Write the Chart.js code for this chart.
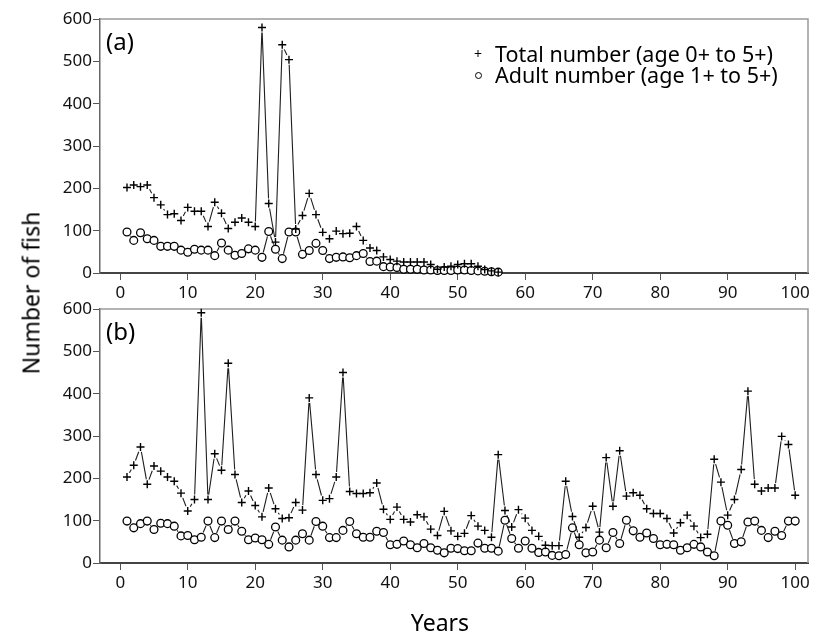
<!DOCTYPE html>
<html>
<head>
<meta charset="utf-8">
<script src="https://cdn.jsdelivr.net/npm/chart.js@4.4.1/dist/chart.umd.min.js"></script>
<style>
  html, body { margin: 0; padding: 0; background: #fff; }
  #wrap { position: relative; width: 817px; height: 634px; overflow: hidden; font-family: "Noto Sans", sans-serif; color: #000; }
  canvas { position: absolute; left: 0; }
  .lbl { position: absolute; line-height: 1; white-space: nowrap; }
</style>
</head>
<body>
<div id="wrap">
  <canvas id="chart-a" width="817" height="305" style="top:0"></canvas>
  <canvas id="chart-b" width="817" height="339" style="top:295px"></canvas>

  <div class="lbl" style="left:106px; top:29px; font-size:24px">(a)</div>
  <div class="lbl" style="left:106px; top:319px; font-size:24px">(b)</div>

  <div class="lbl" style="left:478px; top:54px; font-size:14px; transform:translate(-50%,-50%)">+</div>
  <div style="position:absolute; left:475px; top:72px; width:5px; height:5px; border:1px solid #000; border-radius:50%"></div>
  <div class="lbl" style="left:495px; top:43px; font-size:21.5px">Total number (age 0+ to 5+)</div>
  <div class="lbl" style="left:495px; top:63.5px; font-size:21.5px">Adult number (age 1+ to 5+)</div>

  <div class="lbl" style="left:31px; top:293px; font-size:23px; transform:translate(-50%,-50%) rotate(-90deg)">Number of fish</div>
  <div class="lbl" style="left:440px; top:610.5px; font-size:23px; transform:translateX(-50%)">Years</div>
</div>

<script>
/* ---------- datos ---------- */
const YEARS = [
  1, 2, 3, 4, 5, 6, 7, 8, 9, 10, 11, 12, 13, 14, 15, 16, 17, 18, 19, 20,
  21, 22, 23, 24, 25, 26, 27, 28, 29, 30, 31, 32, 33, 34, 35, 36, 37, 38, 39, 40,
  41, 42, 43, 44, 45, 46, 47, 48, 49, 50, 51, 52, 53, 54, 55, 56, 57, 58, 59, 60,
  61, 62, 63, 64, 65, 66, 67, 68, 69, 70, 71, 72, 73, 74, 75, 76, 77, 78, 79, 80,
  81, 82, 83, 84, 85, 86, 87, 88, 89, 90, 91, 92, 93, 94, 95, 96, 97, 98, 99, 100,
];

// (a) años 1–56, después la población se extingue
const TOTAL_A = [
  202, 208, 204, 208, 178, 161, 138, 140, 124, 155, 146, 146, 110, 167, 141, 105, 120, 130, 120, 110,
  580, 164, 73, 539, 504, 104, 136, 188, 138, 96, 81, 99, 93, 94, 110, 77, 59, 53, 38, 32,
  28, 26, 26, 26, 26, 20, 9, 14, 16, 20, 22, 22, 16, 8, 5, 2,
];
const ADULT_A = [
  97, 77, 95, 81, 77, 63, 63, 63, 54, 49, 56, 54, 54, 41, 71, 54, 42, 46, 57, 54,
  37, 98, 56, 34, 97, 97, 44, 53, 70, 53, 34, 37, 38, 36, 41, 46, 27, 28, 15, 14,
  13, 9, 9, 9, 7, 7, 6, 6, 6, 7, 7, 6, 5, 4, 3, 2,
];

// (b) años 1–100
const TOTAL_B = [
  203, 231, 274, 186, 229, 217, 203, 193, 165, 123, 150, 591, 150, 258, 219, 472, 209, 143, 170, 136,
  109, 177, 128, 105, 107, 143, 125, 390, 209, 148, 152, 203, 450, 169, 164, 164, 166, 189, 127, 103,
  132, 103, 97, 114, 109, 80, 65, 122, 76, 63, 70, 112, 87, 77, 61, 256, 124, 85, 126, 106,
  77, 63, 42, 41, 41, 193, 110, 61, 84, 134, 73, 249, 134, 265, 158, 166, 160, 128, 117, 117,
  105, 71, 95, 113, 87, 60, 68, 245, 191, 113, 150, 221, 406, 186, 170, 177, 177, 299, 280, 160,
];
const ADULT_B = [
  99, 83, 93, 99, 79, 94, 93, 87, 64, 65, 55, 61, 99, 60, 99, 79, 99, 75, 55, 59,
  55, 44, 85, 54, 38, 54, 69, 54, 98, 87, 60, 60, 77, 98, 69, 61, 61, 75, 72, 43,
  44, 52, 43, 36, 46, 36, 30, 24, 35, 34, 29, 29, 47, 35, 35, 28, 101, 58, 35, 52,
  35, 25, 26, 18, 17, 20, 83, 43, 24, 26, 54, 36, 72, 46, 101, 76, 61, 71, 58, 43,
  44, 43, 30, 36, 44, 38, 26, 17, 99, 89, 46, 50, 97, 99, 77, 60, 75, 65, 99, 99,
];

const X_TICKS = [0, 10, 20, 30, 40, 50, 60, 70, 80, 90, 100];
const Y_TICKS = [0, 100, 200, 300, 400, 500, 600];
const X_MIN = -3, X_MAX = 101.9;
const Y_MIN = 0, Y_MAX = 600;

/* ---------- plugins ---------- */
const GAP = 5; // hueco alrededor de cada marcador (estilo type="b")

const gappedLines = {
  id: "gappedLines",
  beforeDatasetDraw(chart, args) {
    const pts = args.meta.data;
    const ctx = chart.ctx;
    ctx.save();
    ctx.strokeStyle = "#1e1e1e";
    ctx.lineWidth = 1.1;
    ctx.beginPath();
    for (let i = 1; i < pts.length; i++) {
      const a = pts[i - 1], b = pts[i];
      const dx = b.x - a.x, dy = b.y - a.y, len = Math.hypot(dx, dy);
      if (len <= 2 * GAP) continue;
      const ux = dx / len, uy = dy / len;
      ctx.moveTo(a.x + ux * GAP, a.y + uy * GAP);
      ctx.lineTo(b.x - ux * GAP, b.y - uy * GAP);
    }
    ctx.stroke();
    ctx.restore();
  },
};

const frame = {
  id: "frame",
  beforeDatasetsDraw(chart) {
    const { left, top, right, bottom } = chart.chartArea;
    const ctx = chart.ctx;
    ctx.save();
    ctx.strokeStyle = "#9a9a9a";
    ctx.lineWidth = 1.5;
    ctx.beginPath();
    ctx.moveTo(left, top); ctx.lineTo(right, top); ctx.lineTo(right, bottom);
    ctx.stroke();
    ctx.restore();
  },
};

/* ---------- paneles ---------- */
const tickFont = { family: "Noto Sans", size: 17 };

function makePanel(id, total, adult, padTop, xAxisHeight) {
  const pts = (vals) => vals.map((v, i) => ({ x: YEARS[i], y: v }));
  return new Chart(document.getElementById(id), {
    type: "line",
    data: {
      datasets: [
        { data: pts(total), showLine: false, clip: false, pointStyle: "cross", pointRadius: 4,
          pointBorderColor: "#000", pointBorderWidth: 1.4 },
        { data: pts(adult), showLine: false, clip: false, pointStyle: "circle", pointRadius: 3.9,
          pointBorderColor: "#000", pointBackgroundColor: "#fff", pointBorderWidth: 1.3 },
      ],
    },
    options: {
      responsive: false, animation: false, events: [],
      layout: { padding: { top: padTop, right: 9, left: 0, bottom: 0 } },
      plugins: { legend: { display: false }, tooltip: { enabled: false } },
      scales: {
        x: {
          type: "linear", min: X_MIN, max: X_MAX,
          afterBuildTicks: (s) => { s.ticks = X_TICKS.map((v) => ({ value: v })); },
          afterFit: (s) => { s.height = xAxisHeight; },
          grid: { drawOnChartArea: false, tickLength: 7, color: "#555", lineWidth: 1 },
          border: { color: "#444", width: 2 },
          ticks: { font: tickFont, color: "#111", padding: 3, maxRotation: 0, autoSkip: false },
        },
        y: {
          min: Y_MIN, max: Y_MAX,
          afterBuildTicks: (s) => { s.ticks = Y_TICKS.map((v) => ({ value: v })); },
          afterFit: (s) => { s.width = 100; },
          grid: { drawOnChartArea: false, tickLength: 7, color: "#555", lineWidth: 1 },
          border: { color: "#666", width: 1.5 },
          ticks: { font: tickFont, color: "#111", padding: 1 },
        },
      },
    },
    plugins: [frame, gappedLines],
  });
}

makePanel("chart-a", TOTAL_A, ADULT_A, 19, 32);
makePanel("chart-b", TOTAL_B, ADULT_B, 14, 71);
</script>
</body>
</html>
